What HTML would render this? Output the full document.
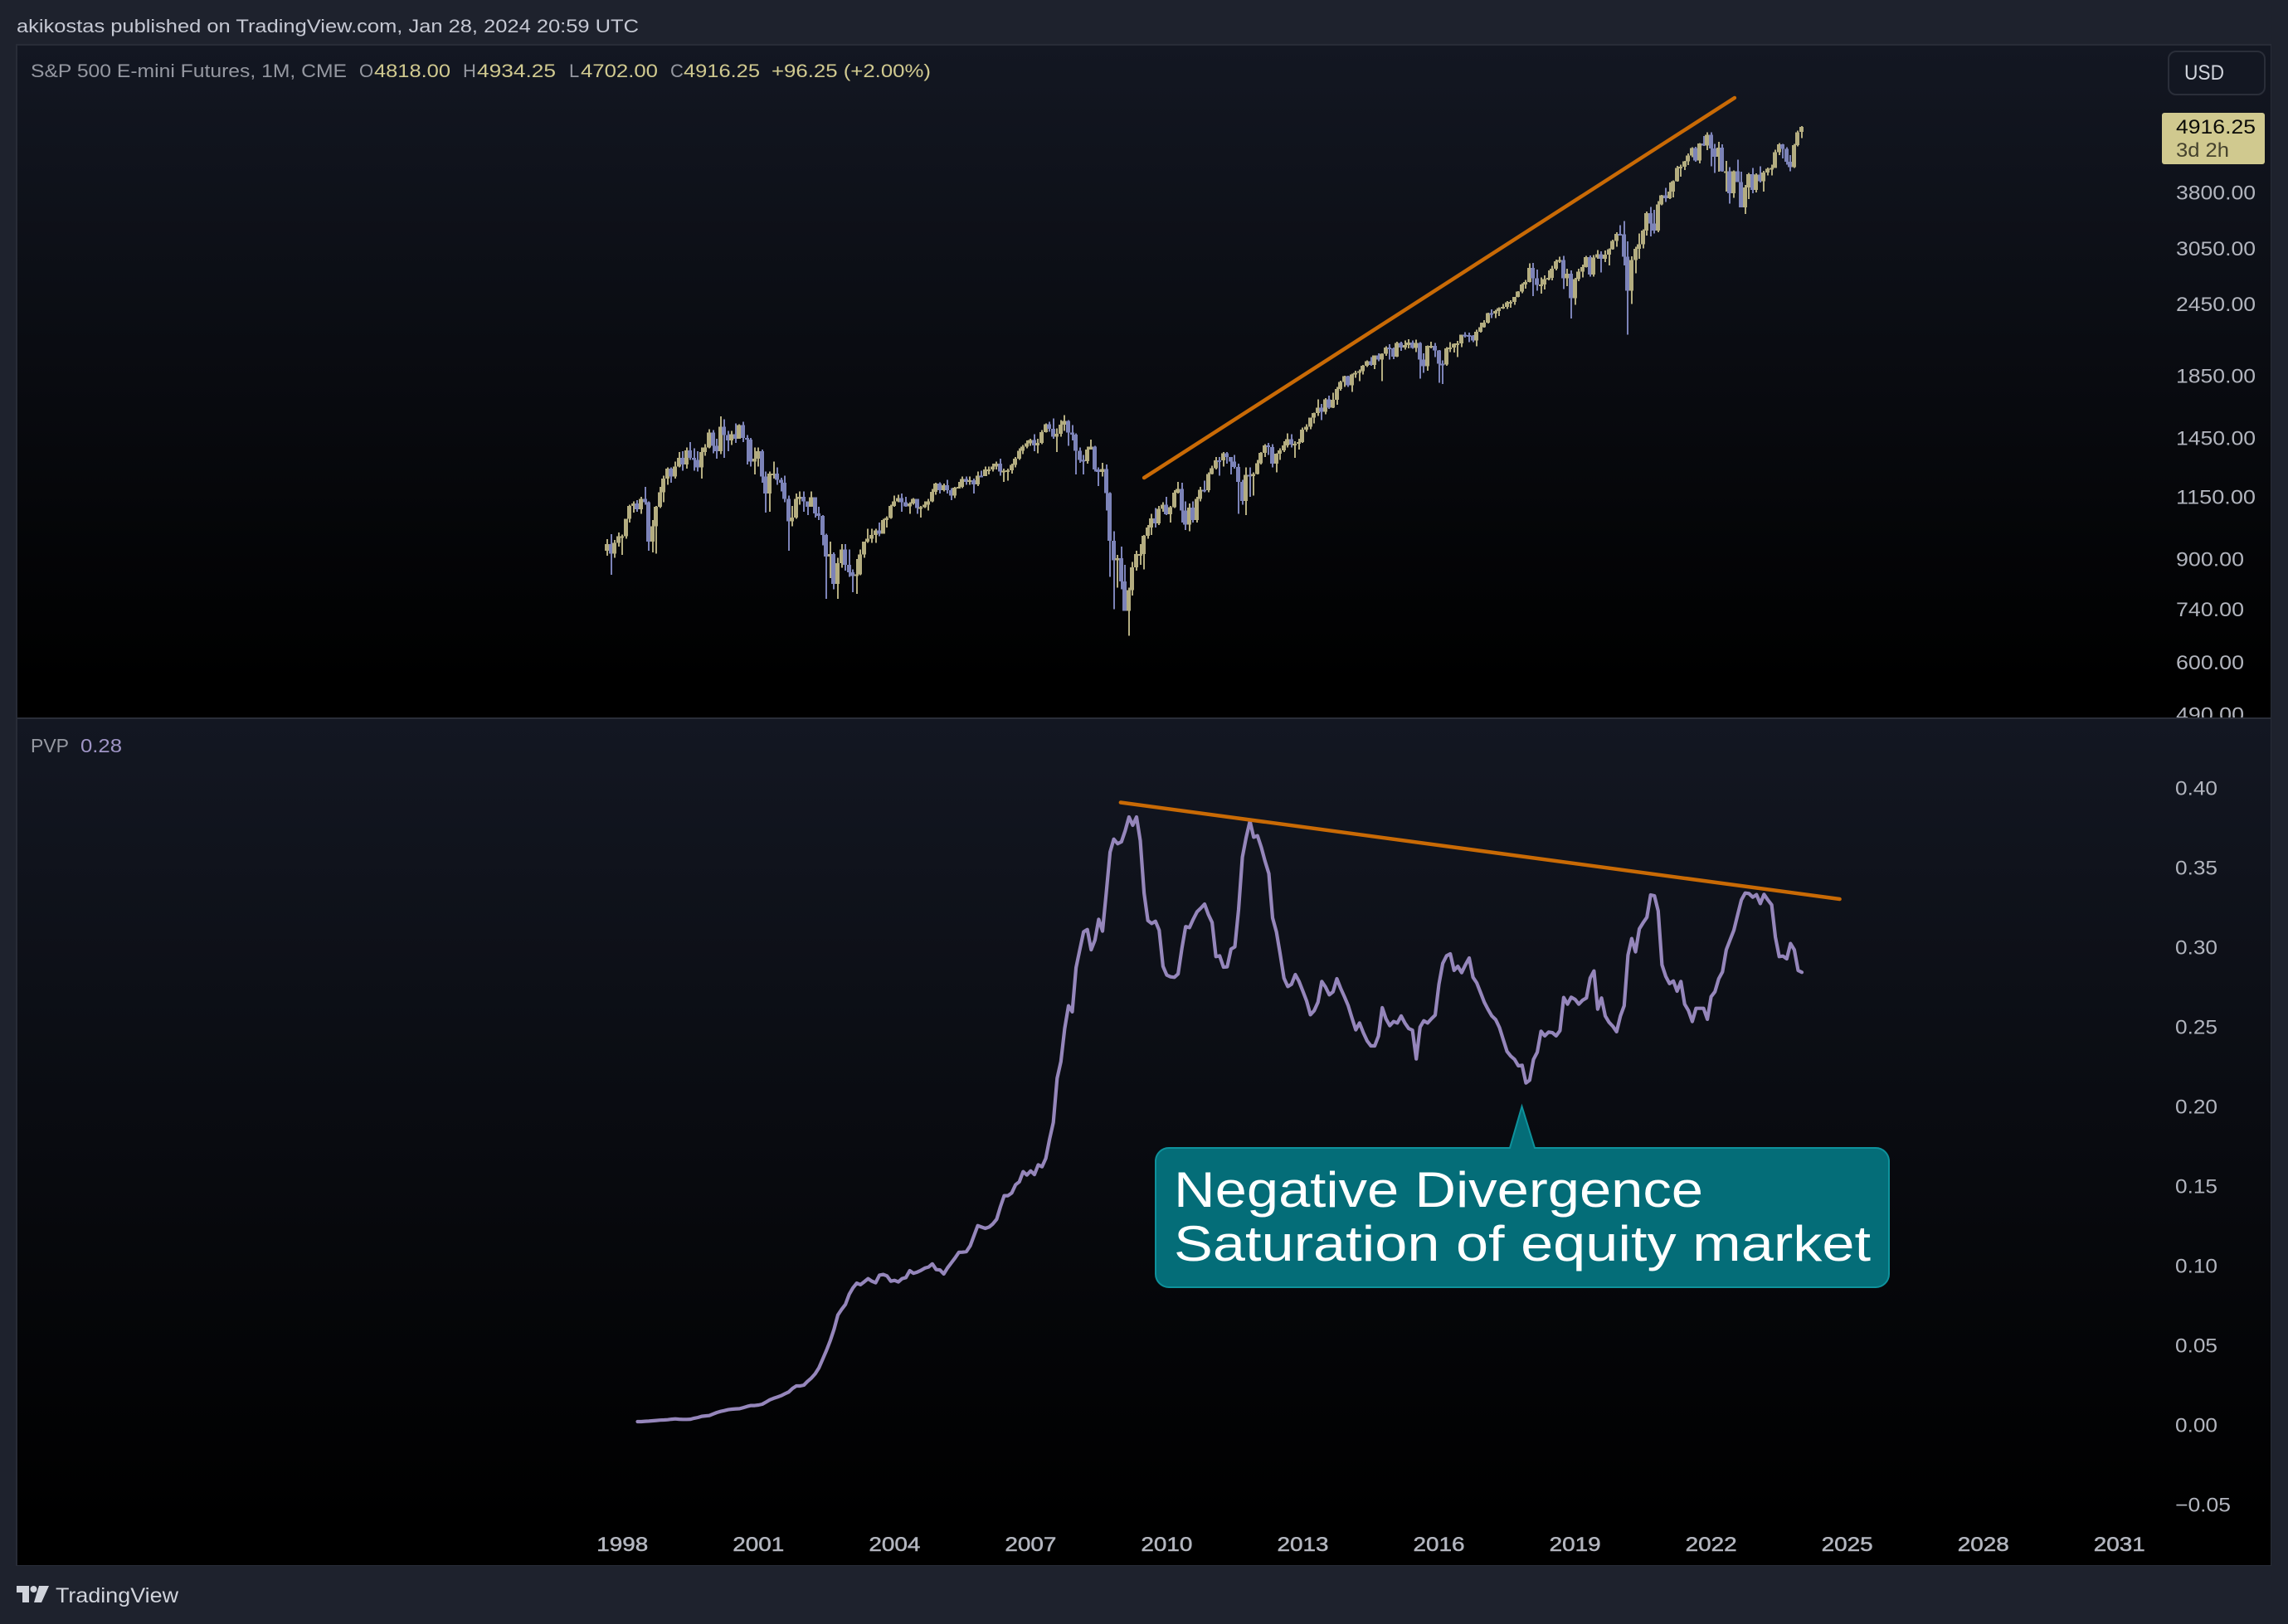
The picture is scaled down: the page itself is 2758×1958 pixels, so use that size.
<!DOCTYPE html>
<html lang="en">
<head>
<meta charset="utf-8">
<title>S&amp;P 500 E-mini Futures with PVP</title>
<style>
html,body{margin:0;padding:0;background:#1e222d;width:2758px;height:1958px;overflow:hidden}
svg{display:block}
text{font-family:"Liberation Sans",sans-serif}
</style>
</head>
<body>
<svg id="chart" xmlns="http://www.w3.org/2000/svg" width="2758" height="1958" viewBox="0 0 2758 1958">
<defs>
<linearGradient id="paneFill" x1="0" y1="0" x2="0" y2="1">
<stop offset="0" stop-color="#131722"/><stop offset="0.95" stop-color="#000000"/>
</linearGradient>
<clipPath id="priceClip"><rect x="20" y="54" width="2717" height="811"/></clipPath>
</defs>
<rect x="0" y="0" width="2758" height="1958" fill="#1e222d"/>
<rect x="19" y="53" width="2719" height="1835" fill="#282c37"/>
<rect x="21" y="55" width="2716" height="810" fill="url(#paneFill)"/>
<rect x="21" y="867" width="2716" height="1020" fill="url(#paneFill)"/>
<rect x="21" y="865" width="2716" height="2" fill="#2a2e39"/>

<text x="20" y="39" font-size="22" fill="#c5c8d3" textLength="750" lengthAdjust="spacingAndGlyphs">akikostas published on TradingView.com, Jan 28, 2024 20:59 UTC</text>

<g font-size="22">
<text x="37" y="93" fill="#9598a1" textLength="381" lengthAdjust="spacingAndGlyphs">S&amp;P 500 E-mini Futures, 1M, CME</text>
<text x="433" y="93" fill="#9598a1">O</text>
<text x="451" y="93" fill="#d1ca90" textLength="92" lengthAdjust="spacingAndGlyphs">4818.00</text>
<text x="558" y="93" fill="#9598a1">H</text>
<text x="575" y="93" fill="#d1ca90" textLength="95" lengthAdjust="spacingAndGlyphs">4934.25</text>
<text x="686" y="93" fill="#9598a1">L</text>
<text x="700" y="93" fill="#d1ca90" textLength="93" lengthAdjust="spacingAndGlyphs">4702.00</text>
<text x="808" y="93" fill="#9598a1">C</text>
<text x="824" y="93" fill="#d1ca90" textLength="92" lengthAdjust="spacingAndGlyphs">4916.25</text>
<text x="930" y="93" fill="#d1ca90" textLength="192" lengthAdjust="spacingAndGlyphs">+96.25 (+2.00%)</text>
</g>

<g>
<rect x="2614" y="62" width="116" height="52" rx="9" fill="#131722" stroke="#2a2e39" stroke-width="2"/>
<text x="2633" y="96" font-size="25" fill="#d1d4dc" textLength="48" lengthAdjust="spacingAndGlyphs">USD</text>
</g>

<g id="priceTicks" clip-path="url(#priceClip)"></g>
<g>
<rect x="2606" y="136" width="124" height="62" rx="3" fill="#d0c98f"/>
<text x="2623" y="161" font-size="24" fill="#0b0b08" textLength="96" lengthAdjust="spacingAndGlyphs">4916.25</text>
<text x="2623" y="189" font-size="24" fill="#45422d" textLength="64" lengthAdjust="spacingAndGlyphs">3d 2h</text>
</g>

<g id="candles" shape-rendering="crispEdges"></g>
<line id="priceTrend" stroke="#c96a05" stroke-width="4.5" stroke-linecap="round"/>

<text x="37" y="907" font-size="23" fill="#9598a1" textLength="46" lengthAdjust="spacingAndGlyphs">PVP</text>
<text x="97" y="907" font-size="23" fill="#a095c6" textLength="50" lengthAdjust="spacingAndGlyphs">0.28</text>
<g id="pvpTicks"></g>
<path id="pvpLine" fill="none" stroke="#9586bb" stroke-width="4.2" stroke-linejoin="round" stroke-linecap="round"/>
<line id="pvpTrend" stroke="#c96a05" stroke-width="4.5" stroke-linecap="round"/>

<g>
<path d="M1409 1384 H1820 L1834.5 1334 L1850 1384 H2261 A16 16 0 0 1 2277 1400 V1536 A16 16 0 0 1 2261 1552 H1409 A16 16 0 0 1 1393 1536 V1400 A16 16 0 0 1 1409 1384 Z" fill="#046d78" stroke="#0e929c" stroke-width="2"/>
<text x="1415" y="1455" font-size="60" fill="#ffffff" textLength="638" lengthAdjust="spacingAndGlyphs">Negative Divergence</text>
<text x="1415" y="1520" font-size="60" fill="#ffffff" textLength="840" lengthAdjust="spacingAndGlyphs">Saturation of equity market</text>
</g>

<g id="timeTicks"></g>

<g>
<path d="M20 1912 H35 V1932 H27 V1920 H20 Z M47 1912 H59 L50 1932 H41 Z" fill="#d1d4dc"/>
<circle cx="40.5" cy="1916" r="4" fill="#d1d4dc"/>
<text x="67" y="1932" font-size="25" fill="#d1d4dc" textLength="148" lengthAdjust="spacingAndGlyphs">TradingView</text>
</g>
</svg>

<script>
// Monthly bars: first bar Sep 1997, last bar Jan 2024.
const opens = [
930,955,920,960,
985,985,1055,1110,1120,1095,1140,1125,965,1025,1105,1170,
1235,1285,1245,1295,1340,1305,1380,1340,1330,1290,1370,1395,
1480,1405,1375,1515,1465,1435,1470,1445,1525,1450,1440,1320,
1335,1375,1245,1165,1260,1260,1230,1215,1140,1045,1060,1140,
1150,1130,1106,1147,1077,1067,990,910,918,817,886,935,
880,855,842,848,917,964,975,990,1008,995,1050,1058,
1110,1130,1144,1125,1107,1120,1140,1100,1104,1114,1130,1173,
1211,1181,1203,1180,1156,1191,1195,1234,1220,1228,1207,1249,
1248,1280,1281,1294,1310,1270,1275,1276,1303,1335,1377,1400,
1418,1438,1406,1420,1482,1530,1503,1455,1473,1526,1549,1481,
1468,1378,1330,1322,1385,1400,1280,1267,1282,1166,968,896,
903,825,735,797,872,919,919,987,1020,1057,1036,1096,
1115,1073,1104,1169,1186,1089,1031,1102,1049,1141,1183,1180,
1257,1286,1327,1326,1364,1345,1321,1292,1219,1131,1253,1247,
1258,1312,1366,1408,1398,1310,1362,1379,1406,1441,1412,1416,
1426,1498,1515,1569,1597,1631,1606,1686,1633,1682,1757,1806,
1848,1783,1859,1872,1884,1924,1960,1931,2003,1972,2018,2068,
2059,1995,2105,2068,2086,2107,2063,2104,1972,1920,2079,2080,
2044,1940,1932,2060,2065,2097,2099,2174,2171,2168,2126,2199,
2239,2279,2364,2363,2384,2412,2423,2470,2472,2519,2575,2648,
2674,2824,2714,2641,2648,2705,2718,2816,2902,2914,2712,2760,
2507,2704,2784,2834,2946,2752,2942,2980,2926,2977,3038,3141,
3231,3226,2954,2585,2912,3044,3100,3271,3500,3363,3270,3622,
3756,3714,3811,3973,4181,4204,4297,4395,4522,4308,4605,4567,
4766,4516,4374,4530,4132,4132,3785,4130,3955,3585,3872,4080,
3840,4076,3970,4109,4169,4180,4450,4589,4507,4288,4194,4575,
4818];
const highs = [
974,993,970,1000,
992,1055,1115,1130,1135,1150,1195,1130,1050,1110,1195,1250,
1290,1290,1320,1370,1375,1395,1425,1390,1375,1395,1415,1500,
1495,1445,1577,1560,1490,1490,1535,1530,1545,1465,1450,1395,
1395,1385,1270,1270,1320,1290,1240,1250,1155,1110,1165,1175,
1175,1130,1175,1147,1105,1070,995,965,925,905,955,955,
935,865,900,935,965,1015,1015,1015,1040,1055,1065,1115,
1155,1160,1165,1150,1125,1145,1140,1110,1130,1140,1185,1215,
1218,1212,1230,1190,1195,1220,1245,1245,1245,1235,1270,1275,
1295,1295,1310,1320,1335,1285,1285,1310,1345,1390,1410,1435,
1445,1470,1445,1495,1535,1545,1565,1505,1555,1586,1553,1525,
1475,1395,1355,1400,1440,1405,1290,1315,1305,1170,1005,915,
945,880,805,890,930,955,990,1030,1075,1100,1110,1125,
1150,1110,1180,1220,1215,1130,1120,1130,1150,1195,1225,1265,
1300,1345,1345,1370,1370,1345,1355,1310,1230,1290,1290,1265,
1330,1370,1415,1420,1415,1365,1390,1430,1475,1470,1430,1445,
1510,1530,1570,1600,1685,1655,1695,1710,1730,1770,1815,1850,
1850,1865,1885,1895,1930,1965,1990,2005,2020,2020,2075,2095,
2065,2115,2115,2125,2135,2125,2130,2110,2020,2085,2115,2105,
2045,1965,2070,2110,2100,2120,2175,2195,2190,2170,2215,2280,
2300,2370,2400,2395,2420,2450,2480,2490,2520,2580,2660,2695,
2875,2880,2805,2720,2745,2800,2850,2920,2950,2960,2815,2800,
2715,2815,2860,2960,2965,2970,3030,3015,3025,3050,3155,3250,
3340,3395,3135,2955,3070,3235,3285,3525,3590,3550,3670,3760,
3870,3950,3985,4220,4240,4300,4430,4535,4545,4610,4745,4810,
4810,4595,4635,4590,4300,4200,4140,4325,4120,3915,4105,4180,
4095,4210,4135,4190,4235,4495,4610,4595,4540,4400,4600,4840,
4934];
const lows = [
912,847,905,945,
915,975,1040,1080,1085,1075,1115,930,925,920,1100,1125,
1205,1215,1235,1290,1275,1285,1330,1275,1270,1235,1350,1390,
1365,1335,1360,1340,1375,1410,1420,1445,1425,1305,1295,1255,
1295,1215,1080,1085,1235,1205,1175,1125,930,1025,1055,1115,
1085,1070,1105,1060,1050,950,770,835,800,770,870,860,
840,790,785,845,905,960,960,960,985,995,1020,1055,
1105,1125,1085,1105,1075,1115,1075,1060,1100,1090,1125,1160,
1165,1175,1165,1135,1145,1190,1190,1205,1205,1165,1200,1245,
1248,1255,1270,1280,1250,1220,1225,1260,1290,1330,1360,1390,
1405,1375,1365,1415,1480,1485,1445,1370,1455,1490,1405,1435,
1255,1315,1255,1310,1385,1270,1200,1245,1090,840,740,805,
800,735,666,780,860,880,865,975,990,1020,1030,1085,
1070,1040,1100,1165,1040,1010,1005,1040,1040,1130,1170,1170,
1255,1280,1250,1295,1310,1255,1285,1075,1115,1070,1150,1155,
1255,1305,1345,1355,1290,1265,1330,1370,1395,1395,1340,1385,
1420,1485,1500,1535,1580,1555,1590,1625,1630,1650,1745,1770,
1770,1735,1835,1810,1860,1915,1925,1900,1960,1810,2000,1970,
1975,1990,2040,2050,2060,2055,2030,1830,1870,1885,2060,1990,
1800,1790,1925,2030,2025,1990,2070,2150,2110,2110,2075,2190,
2235,2270,2320,2320,2340,2405,2405,2415,2445,2515,2560,2605,
2670,2530,2585,2555,2595,2690,2690,2800,2880,2600,2630,2315,
2445,2680,2720,2830,2730,2730,2930,2775,2890,2855,3035,3070,
3215,2855,2175,2450,2765,2930,3050,3210,3200,3235,3250,3610,
3660,3700,3725,3965,4040,4150,4230,4365,4285,4260,4560,4490,
4210,4100,4125,4120,3810,3635,3720,3955,3585,3490,3700,3790,
3800,3950,3810,4060,4065,4180,4400,4340,4240,4130,4180,4550,
4702];
const closes = [
955,920,960,985,
985,1055,1110,1120,1095,1140,1125,965,1025,1105,1170,1235,
1285,1245,1295,1340,1305,1380,1340,1330,1290,1370,1395,1480,
1405,1375,1515,1465,1435,1470,1445,1525,1450,1440,1320,1335,
1375,1245,1165,1260,1260,1230,1215,1140,1045,1060,1140,1150,
1130,1106,1147,1077,1067,990,910,918,817,886,935,880,
855,842,848,917,964,975,990,1008,995,1050,1058,1110,
1130,1144,1125,1107,1120,1140,1100,1104,1114,1130,1173,1211,
1181,1203,1180,1156,1191,1195,1234,1220,1228,1207,1249,1248,
1280,1281,1294,1310,1270,1275,1276,1303,1335,1377,1400,1418,
1438,1406,1420,1482,1530,1503,1455,1473,1526,1549,1481,1468,
1378,1330,1322,1385,1400,1280,1267,1282,1166,968,896,903,
825,735,797,872,919,919,987,1020,1057,1036,1096,1115,
1073,1104,1169,1186,1089,1031,1102,1049,1141,1183,1180,1257,
1286,1327,1326,1364,1345,1321,1292,1219,1131,1253,1247,1258,
1312,1366,1408,1398,1310,1362,1379,1406,1441,1412,1416,1426,
1498,1515,1569,1597,1631,1606,1686,1633,1682,1757,1806,1848,
1783,1859,1872,1884,1924,1960,1931,2003,1972,2018,2068,2059,
1995,2105,2068,2086,2107,2063,2104,1972,1920,2079,2080,2044,
1940,1932,2060,2065,2097,2099,2174,2171,2168,2126,2199,2239,
2279,2364,2363,2384,2412,2423,2470,2472,2519,2575,2648,2674,
2824,2714,2641,2648,2705,2718,2816,2902,2914,2712,2760,2507,
2704,2784,2834,2946,2752,2942,2980,2926,2977,3038,3141,3231,
3226,2954,2585,2912,3044,3100,3271,3500,3363,3270,3622,3756,
3714,3811,3973,4181,4204,4297,4395,4522,4308,4605,4567,4766,
4516,4374,4530,4132,4132,3785,4130,3955,3585,3872,4080,3840,
4076,3970,4109,4169,4180,4450,4589,4507,4288,4194,4575,4810,
4916.25];

// PVP indicator: first value belongs to bar index 8 (May 1998).
const pvpFirstBar = 8;
const pvpValues = [
.0021,.0021,.0023,.0024,.0026,.0028,.0030,.0031,.0033,.0036,.0038,.0036,.0035,.0035,.0036,.0042,
.0047,.0054,.0057,.0059,.0069,.0078,.0085,.0090,.0096,.0099,.0101,.0102,.0109,.0116,.0122,.0122,
.0125,.0130,.0144,.0158,.0167,.0175,.0184,.0196,.0207,.0229,.0245,.0245,.0250,.0274,.0295,.0321,
.0359,.0413,.0469,.0531,.0601,.0691,.0726,.0757,.0820,.0861,.0891,.0881,.0900,.0919,.0903,.0893,
.0941,.0945,.0936,.0903,.0908,.0898,.0919,.0926,.0969,.0953,.0960,.0971,.0985,.0992,.1012,.0976,
.0974,.0948,.0986,.1018,.1049,.1084,.1085,.1089,.1125,.1188,.1252,.1243,.1235,.1243,.1263,.1292,
.1370,.1440,.1440,.1457,.1509,.1527,.1591,.1570,.1596,.1573,.1634,.1622,.1674,.1796,.1900,.2178,
.2282,.2490,.2633,.2595,.2872,.2985,.3098,.3112,.2985,.3046,.3176,.3102,.3341,.3598,.3680,.3651,
.3663,.3732,.3819,.3767,.3819,.3671,.3341,.3168,.3150,.3164,.3107,.2881,.2826,.2815,.2812,.2833,
.2994,.3130,.3124,.3176,.3223,.3246,.3272,.3206,.3156,.2942,.2947,.2876,.2878,.2989,.3003,.3237,
.3567,.3689,.3793,.3692,.3701,.3628,.3541,.3463,.3185,.3098,.2959,.2807,.2754,.2768,.2829,.2786,
.2725,.2664,.2577,.2603,.2655,.2786,.2751,.2702,.2721,.2803,.2742,.2690,.2633,.2556,.2482,.2525,
.2464,.2412,.2381,.2381,.2442,.2621,.2551,.2508,.2534,.2525,.2569,.2525,.2490,.2480,.2299,.2499,
.2539,.2525,.2551,.2574,.2768,.2899,.2947,.2959,.2855,.2881,.2841,.2890,.2933,.2812,.2777,.2716,
.2655,.2609,.2569,.2546,.2496,.2421,.2346,.2317,.2296,.2256,.2259,.2148,.2166,.2296,.2341,.2473,
.2444,.2468,.2464,.2444,.2477,.2685,.2643,.2687,.2673,.2643,.2668,.2682,.2807,.2852,.2612,.2682,
.2569,.2529,.2504,.2470,.2569,.2633,.2951,.3055,.2972,.3116,.3154,.3189,.3329,.3324,.3229,.2890,
.2817,.2772,.2789,.2725,.2786,.2643,.2603,.2534,.2617,.2617,.2617,.2548,.2690,.2721,.2803,.2846,
.2985,.3046,.3107,.3202,.3298,.3341,.3338,.3315,.3331,.3275,.3333,.3298,.3267,.3064,.2942,.2945,
.2928,.3024,.2985,.2855,.2843];

// Axis labels
const priceTickValues = [3800,3050,2450,1850,1450,1150,900,740,600,490];
const pvpTickValues = [0.40,0.35,0.30,0.25,0.20,0.15,0.10,0.05,0.00,-0.05];
const timeTickYears = [1998,2001,2004,2007,2010,2013,2016,2019,2022,2025,2028,2031];
const firstBarYear = 1997;
const firstBarMonth = 9;

// Trendline anchors: [bar index, value]
const priceTrendStart = [142, 1239];
const priceTrendEnd = [298.2, 5509];
const pvpTrendStart = [135.8, 0.391];
const pvpTrendEnd = [326, 0.3303];

const SVG_NS = 'http://www.w3.org/2000/svg';
const upColor = '#b4ad80';
const downColor = '#7c83b8';

function xScale(barIndex) { return 732 + 4.557 * barIndex; }
function priceY(price) { return 232 + 307 * Math.log(3800 / price); }
function pvpY(value) { return 1718 - 1919.4 * value; }
function yearToBar(year) { return (year - firstBarYear) * 12 + (1 - firstBarMonth); }

const candleGroup = document.getElementById('candles');
for (let i = 0; i < closes.length; i++) {
  const up = closes[i] >= opens[i];
  const color = up ? upColor : downColor;
  const cx = Math.round(xScale(i));
  const wick = document.createElementNS(SVG_NS, 'rect');
  
  
  wick.setAttribute('x', cx - 1);
  wick.setAttribute('width', 2);
  wick.setAttribute('y', priceY(highs[i]));
  wick.setAttribute('height', priceY(lows[i]) - priceY(highs[i]));
  wick.setAttribute('fill', color);
  candleGroup.appendChild(wick);
  const bodyTop = priceY(Math.max(opens[i], closes[i]));
  const bodyBottom = priceY(Math.min(opens[i], closes[i]));
  const body = document.createElementNS(SVG_NS, 'rect');
  
  
  body.setAttribute('x', cx - 3);
  body.setAttribute('width', 5);
  body.setAttribute('y', bodyTop);
  body.setAttribute('height', Math.max(2, bodyBottom - bodyTop));
  body.setAttribute('fill', color);
  candleGroup.appendChild(body);
}

const pvpPath = pvpValues.map(function (v, k) {
  return (k ? 'L' : 'M') + xScale(pvpFirstBar + k).toFixed(1) + ' ' + pvpY(v).toFixed(1);
}).join(' ');
document.getElementById('pvpLine').setAttribute('d', pvpPath);

const priceTrend = document.getElementById('priceTrend');
priceTrend.setAttribute('x1', xScale(priceTrendStart[0]));
priceTrend.setAttribute('y1', priceY(priceTrendStart[1]));
priceTrend.setAttribute('x2', xScale(priceTrendEnd[0]));
priceTrend.setAttribute('y2', priceY(priceTrendEnd[1]));

const pvpTrend = document.getElementById('pvpTrend');
pvpTrend.setAttribute('x1', xScale(pvpTrendStart[0]));
pvpTrend.setAttribute('y1', pvpY(pvpTrendStart[1]));
pvpTrend.setAttribute('x2', xScale(pvpTrendEnd[0]));
pvpTrend.setAttribute('y2', pvpY(pvpTrendEnd[1]));

const priceTickGroup = document.getElementById('priceTicks');
priceTickValues.forEach(function (p) {
  const t = document.createElementNS(SVG_NS, 'text');
  
  
  t.setAttribute('x', 2623);
  t.setAttribute('y', priceY(p) + 8.5);
  t.setAttribute('font-size', 24);
  t.setAttribute('fill', '#b2b5be');
  t.setAttribute('lengthAdjust', 'spacingAndGlyphs');
  t.setAttribute('textLength', p >= 1000 ? 96 : 82);
  t.textContent = p.toFixed(2);
  priceTickGroup.appendChild(t);
});

const pvpTickGroup = document.getElementById('pvpTicks');
pvpTickValues.forEach(function (v) {
  const label = (v < 0 ? '\u2212' : '') + Math.abs(v).toFixed(2);
  const t = document.createElementNS(SVG_NS, 'text');
  
  
  t.setAttribute('x', 2622);
  t.setAttribute('y', pvpY(v) + 8.5);
  t.setAttribute('font-size', 24);
  t.setAttribute('fill', '#b2b5be');
  t.setAttribute('lengthAdjust', 'spacingAndGlyphs');
  t.setAttribute('textLength', label.length === 5 ? 67 : 51);
  t.textContent = label;
  pvpTickGroup.appendChild(t);
});

const timeTickGroup = document.getElementById('timeTicks');
timeTickYears.forEach(function (year) {
  const t = document.createElementNS(SVG_NS, 'text');
  
  
  t.setAttribute('x', xScale(yearToBar(year)) - 31);
  t.setAttribute('y', 1870);
  t.setAttribute('font-size', 24);
  t.setAttribute('fill', '#b2b5be');
  t.setAttribute('stroke', '#b2b5be');
  t.setAttribute('stroke-width', '0.5');
  t.setAttribute('lengthAdjust', 'spacingAndGlyphs');
  t.setAttribute('textLength', 62);
  t.textContent = String(year);
  timeTickGroup.appendChild(t);
});
</script>
</body>
</html>
